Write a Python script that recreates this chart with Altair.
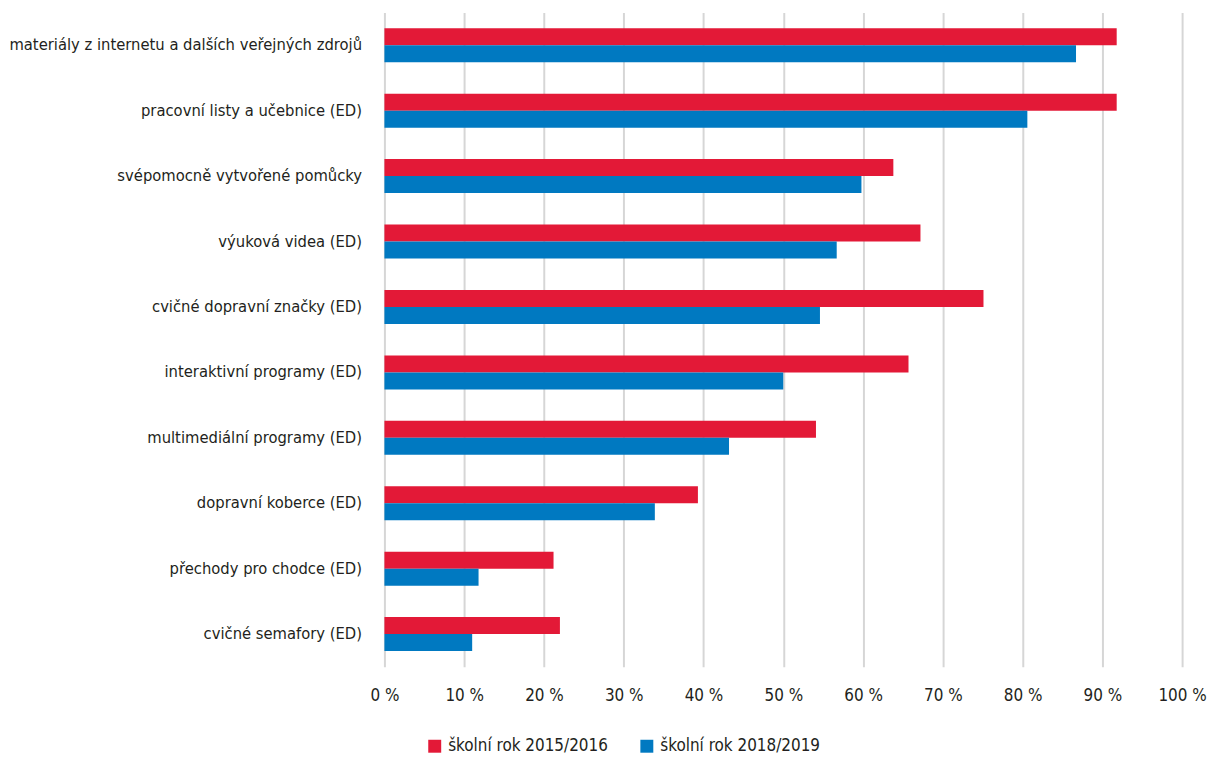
import altair as alt
import pandas as pd

categories = [
    "materiály z internetu a dalších veřejných zdrojů",
    "pracovní listy a učebnice (ED)",
    "svépomocně vytvořené pomůcky",
    "výuková videa (ED)",
    "cvičné dopravní značky (ED)",
    "interaktivní programy (ED)",
    "multimediální programy (ED)",
    "dopravní koberce (ED)",
    "přechody pro chodce (ED)",
    "cvičné semafory (ED)",
]
series_names = ["školní rok 2015/2016", "školní rok 2018/2019"]
values_2015 = [91.8, 91.8, 63.8, 67.2, 75.1, 65.7, 54.1, 39.3, 21.2, 22.0]
values_2018 = [86.7, 80.6, 59.8, 56.7, 54.6, 50.0, 43.2, 33.9, 11.8, 11.0]
colors = ["#E31937", "#0079C1"]
x_ticks = [0, 10, 20, 30, 40, 50, 60, 70, 80, 90, 100]

rows = []
for c, a, b in zip(categories, values_2015, values_2018):
    rows.append({"kategorie": c, "rok": series_names[0], "hodnota": a})
    rows.append({"kategorie": c, "rok": series_names[1], "hodnota": b})
df = pd.DataFrame(rows)

FONT = "DejaVu Sans Condensed, DejaVu Sans"
TXT = "#231f20"

chart = alt.Chart(df).mark_bar().encode(
    x=alt.X(
        "hodnota:Q",
        scale=alt.Scale(domain=[0, 100], nice=False),
        axis=alt.Axis(
            values=x_ticks,
            labelExpr="datum.value + ' %'",
            title=None,
            domain=False,
            ticks=False,
            grid=True,
            gridColor="#d6d6d6",
            gridWidth=2,
            labelFontSize=17,
            labelPadding=21,
            labelColor=TXT,
            labelFont=FONT,
            labelFlush=False,
            labelOverlap=False,
        ),
    ),
    y=alt.Y(
        "kategorie:N",
        sort=categories,
        scale=alt.Scale(paddingInner=0.48, paddingOuter=0.24),
        axis=alt.Axis(
            title=None,
            domain=False,
            ticks=False,
            labelFontSize=16.5,
            labelPadding=23,
            labelColor=TXT,
            labelFont=FONT,
            labelLimit=500,
        ),
    ),
    yOffset=alt.YOffset("rok:N", sort=series_names),
    color=alt.Color(
        "rok:N",
        sort=series_names,
        scale=alt.Scale(domain=series_names, range=colors),
        legend=alt.Legend(
            title=None,
            orient="none",
            legendX=42,
            legendY=728,
            direction="horizontal",
            symbolType="square",
            symbolSize=169,
            symbolStrokeWidth=0,
            labelFontSize=17,
            labelFont=FONT,
            labelColor=TXT,
            labelOffset=5,
            labelLimit=300,
            columnPadding=30,
            padding=0,
        ),
    ),
).properties(
    width=801,
    height=657,
    padding={"left": 0, "top": 3, "right": 0, "bottom": 0},
).configure_view(stroke=None)

chart.save("out.html", embed_options={"renderer": "svg", "actions": False})
